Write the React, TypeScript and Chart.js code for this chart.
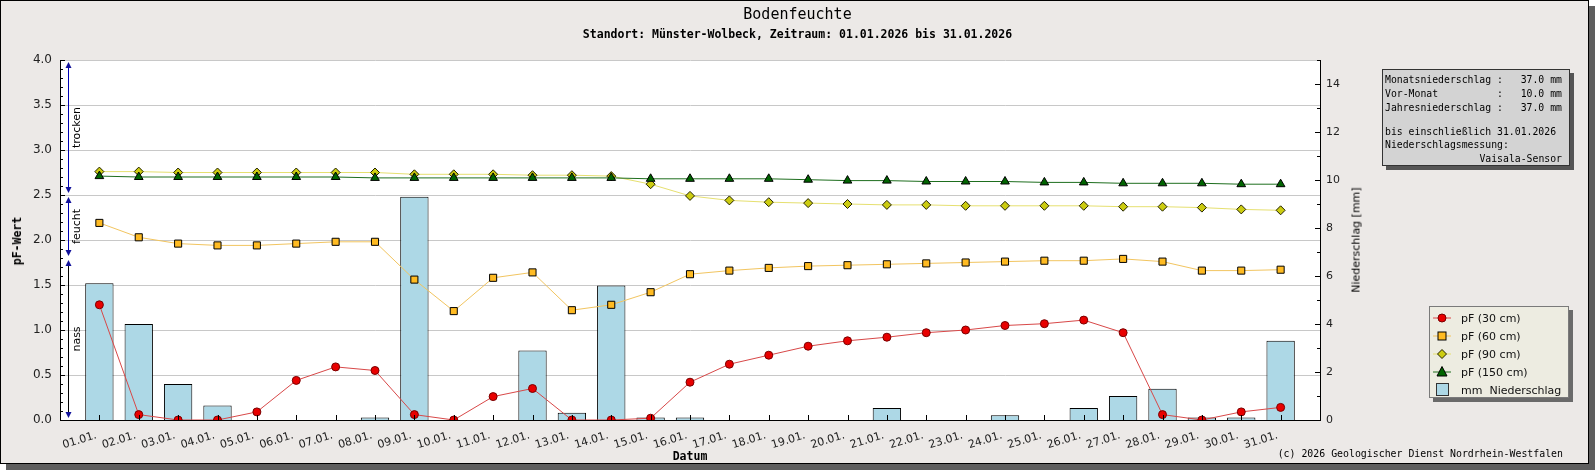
import { useEffect, useRef } from "react";
import { Chart, registerables, Plugin } from "chart.js";

Chart.register(...registerables);

// Tage im Januar 2026
const dates = [
  "01.01.", "02.01.", "03.01.", "04.01.", "05.01.", "06.01.", "07.01.", "08.01.",
  "09.01.", "10.01.", "11.01.", "12.01.", "13.01.", "14.01.", "15.01.", "16.01.",
  "17.01.", "18.01.", "19.01.", "20.01.", "21.01.", "22.01.", "23.01.", "24.01.",
  "25.01.", "26.01.", "27.01.", "28.01.", "29.01.", "30.01.", "31.01.",
];
const days = dates.map((_, i) => i + 1);

// pF-Werte je Tiefe
const pf30 = [
  1.28, 0.06, 0.0, 0.0, 0.09, 0.44, 0.59, 0.55, 0.06, 0.0, 0.26, 0.35, 0.0, 0.0, 0.02, 0.42,
  0.62, 0.72, 0.82, 0.88, 0.92, 0.97, 1.0, 1.05, 1.07, 1.11, 0.97, 0.06, 0.0, 0.09, 0.14,
];
const pf60 = [
  2.19, 2.03, 1.96, 1.94, 1.94, 1.96, 1.98, 1.98, 1.56, 1.21, 1.58, 1.64, 1.22, 1.28, 1.42, 1.62,
  1.66, 1.69, 1.71, 1.72, 1.73, 1.74, 1.75, 1.76, 1.77, 1.77, 1.79, 1.76, 1.66, 1.66, 1.67,
];
const pf90 = [
  2.76, 2.76, 2.75, 2.75, 2.75, 2.75, 2.75, 2.75, 2.73, 2.73, 2.73, 2.72, 2.72, 2.71, 2.62, 2.49,
  2.44, 2.42, 2.41, 2.4, 2.39, 2.39, 2.38, 2.38, 2.38, 2.38, 2.37, 2.37, 2.36, 2.34, 2.33,
];
const pf150 = [
  2.71, 2.7, 2.7, 2.7, 2.7, 2.7, 2.7, 2.69, 2.69, 2.69, 2.69, 2.69, 2.69, 2.69, 2.68, 2.68,
  2.68, 2.68, 2.67, 2.66, 2.66, 2.65, 2.65, 2.65, 2.64, 2.64, 2.63, 2.63, 2.63, 2.62, 2.62,
];

// Niederschlag [mm]
const rain = [
  5.7, 4.0, 1.5, 0.6, 0, 0, 0, 0.1, 9.3, 0, 0, 2.9, 0.3, 5.6, 0.1, 0.1,
  0, 0, 0, 0, 0.5, 0, 0, 0.2, 0, 0.5, 1.0, 1.3, 0.1, 0.1, 3.3,
];

const pfTicks = [0, 0.5, 1.0, 1.5, 2.0, 2.5, 3.0, 3.5, 4.0];
const mmTicks = [0, 2, 4, 6, 8, 10, 12, 14];

// Feuchtebereiche an der linken Achse
const zoneNames = ["trocken", "feucht", "nass"];
const zoneFrom = [2.5, 1.8, 0];
const zoneTo = [4.0, 2.5, 1.8];

const infoLines = [
  "Monatsniederschlag :   37.0 mm",
  "Vor-Monat          :   10.0 mm",
  "Jahresniederschlag :   37.0 mm",
];
const infoLines2 = ["bis einschließlich 31.01.2026", "Niederschlagsmessung:"];

const MONO = "'DejaVu Sans Mono', monospace";
const SANS = "'DejaVu Sans', sans-serif";

const series = [
  { label: "pF (30 cm)", data: pf30, line: "#d84848", fill: "#e80000", edge: "#7a0000", style: "circle", r: 4 },
  { label: "pF (60 cm)", data: pf60, line: "#f2c560", fill: "#ffbb22", edge: "#000000", style: "rect", r: 5 },
  { label: "pF (90 cm)", data: pf90, line: "#e6e070", fill: "#cccc10", edge: "#222200", style: "rectRot", r: 4.5 },
  { label: "pF (150 cm)", data: pf150, line: "#1e6e1e", fill: "#006400", edge: "#000000", style: "triangle", r: 5 },
];

const decor: Plugin = {
  id: "decor",
  beforeDraw(chart) {
    const { ctx, chartArea: a } = chart;
    ctx.save();
    ctx.fillStyle = "#ffffff";
    ctx.fillRect(a.left, a.top, a.right - a.left, a.bottom - a.top);
    ctx.restore();
  },
  afterDatasetsDraw(chart) {
    const { ctx, chartArea: a, scales } = chart;
    const x = scales.x;
    const y = scales.y;
    const y1 = scales.y1;
    ctx.save();
    ctx.strokeStyle = "#000";
    ctx.lineWidth = 1;
    ctx.beginPath();
    // innere Teilstriche
    days.forEach((d) => {
      const px = Math.round(x.getPixelForValue(d)) + 0.5;
      ctx.moveTo(px, a.bottom);
      ctx.lineTo(px, a.bottom - 5);
    });
    for (let i = 0; i <= 40; i++) {
      const py = Math.round(y.getPixelForValue(i / 10)) + 0.5;
      ctx.moveTo(a.left, py);
      ctx.lineTo(a.left + (i % 5 === 0 ? 5 : 3), py);
    }
    for (let i = 0; i <= 15; i++) {
      const py = Math.round(y1.getPixelForValue(i)) + 0.5;
      ctx.moveTo(a.right, py);
      ctx.lineTo(a.right - (i % 2 === 0 ? 5 : 3), py);
    }
    ctx.moveTo(Math.round(a.left) + 0.5, a.top);
    ctx.lineTo(Math.round(a.left) + 0.5, a.bottom);
    ctx.moveTo(a.left, Math.round(a.bottom) + 0.5);
    ctx.lineTo(a.right, Math.round(a.bottom) + 0.5);
    ctx.moveTo(Math.round(a.right) + 0.5, a.top);
    ctx.lineTo(Math.round(a.right) + 0.5, a.bottom);
    ctx.stroke();

    // Pfeile trocken / feucht / nass
    const ax = Math.round(a.left) + 8.5;
    zoneNames.forEach((name, i) => {
      const top = y.getPixelForValue(zoneTo[i]) + 2;
      const bot = y.getPixelForValue(zoneFrom[i]) - 2;
      ctx.strokeStyle = i < 2 ? "#0000b4" : "#000000";
      ctx.beginPath();
      ctx.moveTo(ax, top + 3);
      ctx.lineTo(ax, bot - 3);
      ctx.stroke();
      ctx.fillStyle = "#10109a";
      ctx.beginPath();
      ctx.moveTo(ax, top);
      ctx.lineTo(ax - 3, top + 6);
      ctx.lineTo(ax + 3, top + 6);
      ctx.closePath();
      ctx.fill();
      ctx.beginPath();
      ctx.moveTo(ax, bot);
      ctx.lineTo(ax - 3, bot - 6);
      ctx.lineTo(ax + 3, bot - 6);
      ctx.closePath();
      ctx.fill();
      const mid = y.getPixelForValue((zoneFrom[i] + zoneTo[i]) / 2);
      ctx.save();
      ctx.translate(ax + 8.5, mid);
      ctx.rotate(-Math.PI / 2);
      ctx.fillStyle = "#000";
      ctx.font = "11px " + SANS;
      ctx.textAlign = "center";
      ctx.textBaseline = "middle";
      ctx.fillText(name, 0, 0);
      ctx.restore();
    });
    ctx.restore();
  },
};

function LegendSymbol({ i }: { i: number }) {
  if (i === 4) {
    return (
      <svg width="20" height="18">
        <rect x="4.5" y="2.5" width="12" height="12" fill="#add8e6" stroke="#333" />
      </svg>
    );
  }
  const s = series[i];
  let marker;
  if (s.style === "circle") marker = <circle cx="10" cy="9" r="4" fill={s.fill} stroke={s.edge} />;
  else if (s.style === "rect") marker = <rect x="6" y="5" width="8" height="8" fill={s.fill} stroke={s.edge} />;
  else if (s.style === "rectRot") marker = <polygon points="10,4.5 14.5,9 10,13.5 5.5,9" fill={s.fill} stroke={s.edge} />;
  else marker = <polygon points="10,3.5 15,13 5,13" fill={s.fill} stroke={s.edge} />;
  return (
    <svg width="20" height="18">
      <line x1="1" y1="9" x2="19" y2="9" stroke={s.line} strokeWidth="1" />
      {marker}
    </svg>
  );
}

export default function App() {
  const canvasRef = useRef<HTMLCanvasElement>(null);

  useEffect(() => {
    if (!canvasRef.current) return;
    const chart = new Chart(canvasRef.current, {
      type: "bar",
      data: {
        datasets: [
          ...series.map((s, k) => ({
            type: "line" as const,
            label: s.label,
            data: days.map((d, i) => ({ x: d, y: s.data[i] })),
            yAxisID: "y",
            borderColor: s.line,
            borderWidth: 1,
            tension: 0,
            pointStyle: s.style as any,
            pointRadius: s.r,
            pointBackgroundColor: s.fill,
            pointBorderColor: s.edge,
            pointBorderWidth: 1,
            order: 4 - k,
          })),
          {
            type: "bar" as const,
            label: "mm  Niederschlag",
            data: days.map((d, i) => ({ x: d, y: rain[i] })),
            yAxisID: "y1",
            backgroundColor: "#add8e6",
            borderColor: "#000000",
            borderWidth: 1,
            barPercentage: 0.9,
            categoryPercentage: 0.8,
            order: 10,
          },
        ],
      },
      options: {
        animation: false,
        responsive: false,
        devicePixelRatio: 1,
        layout: { padding: { left: 0, top: 60, right: 235, bottom: 20 } },
        plugins: {
          legend: { display: false },
          tooltip: { enabled: false },
          title: { display: false },
        },
        scales: {
          x: {
            type: "linear",
            min: 0,
            max: 32,
            offset: false,
            afterBuildTicks: (s: any) => {
              s.ticks = days.map((v) => ({ value: v }));
            },
            afterFit: (s: any) => {
              s.height = 30;
            },
            grid: { display: false, drawTicks: false },
            border: { display: true, color: "#000" },
            ticks: {
              autoSkip: false,
              minRotation: 17,
              maxRotation: 17,
              padding: 9,
              labelOffset: -3,
              color: "#222",
              font: { family: SANS, size: 11 },
              callback: (v: any) => dates[Number(v) - 1] ?? "",
            },
          },
          y: {
            position: "left",
            min: 0,
            max: 4,
            afterBuildTicks: (s: any) => {
              s.ticks = pfTicks.map((v) => ({ value: v }));
            },
            afterFit: (s: any) => {
              s.width = 60;
            },
            grid: { color: "#c8c8c8", drawTicks: false },
            border: { display: true, color: "#000" },
            ticks: {
              padding: 8,
              color: "#222",
              font: { family: SANS, size: 12 },
              callback: (v: any) => Number(v).toFixed(1),
            },
          },
          y1: {
            position: "right",
            min: 0,
            max: 15,
            afterBuildTicks: (s: any) => {
              s.ticks = mmTicks.map((v) => ({ value: v }));
            },
            afterFit: (s: any) => {
              s.width = 40;
            },
            grid: { display: false, drawTicks: false },
            border: { display: true, color: "#000" },
            ticks: {
              padding: 6,
              color: "#222",
              font: { family: SANS, size: 11 },
            },
          },
        },
      },
      plugins: [decor],
    });
    return () => chart.destroy();
  }, []);

  const abs = { position: "absolute" as const };
  const rot = (cx: number, cy: number) => ({
    ...abs,
    left: cx,
    top: cy,
    transform: "translate(-50%, -50%) rotate(-90deg)",
    whiteSpace: "nowrap" as const,
  });

  return (
    <div style={{ position: "fixed", left: 0, top: 0, width: 1595, height: 470, overflow: "hidden", background: "#ffffff" }}>
      {/* Rahmen mit Schatten */}
      <div
        style={{
          ...abs,
          left: 0,
          top: 0,
          width: 1589,
          height: 464,
          boxSizing: "border-box",
          border: "1px solid #000",
          background: "#ece9e7",
          boxShadow: "6px 6px 0 #5e5e5e",
        }}
      />
      <canvas ref={canvasRef} width={1595} height={470} style={{ ...abs, left: 0, top: 0, width: 1595, height: 470 }} />

      {/* Titel */}
      <div style={{ ...abs, left: 0, width: 1595, top: 5, textAlign: "center", font: `15px ${MONO}`, lineHeight: "18px", color: "#000" }}>
        Bodenfeuchte
      </div>
      <div style={{ ...abs, left: 0, width: 1595, top: 26, textAlign: "center", font: `bold 11.5px ${MONO}`, lineHeight: "16px", color: "#000" }}>
        Standort: Münster-Wolbeck, Zeitraum: 01.01.2026 bis 31.01.2026
      </div>

      {/* Achsentitel */}
      <div style={{ ...rot(17, 241), font: `bold 11.5px ${MONO}`, color: "#000" }}>pF-Wert</div>
      <div style={{ ...rot(1356, 240), font: `11px ${SANS}`, color: "#000" }}>Niederschlag [mm]</div>
      <div style={{ ...abs, left: 690, top: 456, transform: "translate(-50%, -50%)", font: `bold 11.5px ${MONO}`, color: "#000" }}>
        Datum
      </div>
      <div style={{ ...abs, right: 1595 - 1563, top: 448, font: `9.9px ${MONO}`, color: "#000", whiteSpace: "pre" }}>
        (c) 2026 Geologischer Dienst Nordrhein-Westfalen
      </div>

      {/* Niederschlags-Info */}
      <div
        style={{
          ...abs,
          left: 1382,
          top: 69,
          width: 188,
          height: 97,
          boxSizing: "border-box",
          background: "#d3d3d3",
          border: "1px solid #333",
          boxShadow: "4px 4px 0 #555",
          font: `9.8px ${MONO}`,
          color: "#000",
        }}
      >
        {infoLines.map((t, i) => (
          <div key={t} style={{ ...abs, left: 2, top: 3 + i * 14, lineHeight: "14px", whiteSpace: "pre" }}>
            {t}
          </div>
        ))}
        {infoLines2.map((t, i) => (
          <div key={t} style={{ ...abs, left: 2, top: 55 + i * 13.3, lineHeight: "14px", whiteSpace: "pre" }}>
            {t}
          </div>
        ))}
        <div style={{ ...abs, right: 7, top: 81.6, lineHeight: "14px", whiteSpace: "pre" }}>Vaisala-Sensor</div>
      </div>

      {/* Legende */}
      <div
        style={{
          ...abs,
          left: 1429,
          top: 306,
          width: 140,
          height: 92,
          boxSizing: "border-box",
          background: "#edece1",
          border: "1px solid #7a7a7a",
          boxShadow: "4px 4px 0 #6a6a6a",
        }}
      >
        {[...series.map((s) => s.label), "mm  Niederschlag"].map((t, i) => (
          <div key={t} style={{ ...abs, left: 2, top: 2 + i * 18, height: 18, display: "flex", alignItems: "center" }}>
            <LegendSymbol i={i} />
            <span style={{ marginLeft: 9, font: `11px ${SANS}`, color: "#111", whiteSpace: "pre" }}>{t}</span>
          </div>
        ))}
      </div>
    </div>
  );
}
